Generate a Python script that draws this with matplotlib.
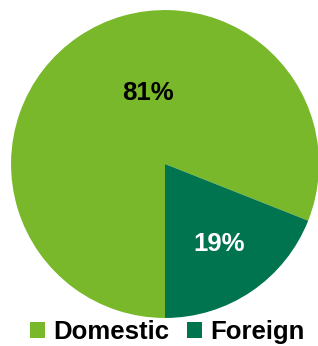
import matplotlib
matplotlib.use('Agg')
import matplotlib.pyplot as plt
from matplotlib.patches import Patch

plt.rcParams['font.family'] = ['Liberation Sans', 'DejaVu Sans']

labels = ['Domestic', 'Foreign']
shares = [81, 19]
colors = ['#78b82a', '#00734f']
text_colors = ['black', 'white']

fig = plt.figure(figsize=(3.18, 3.46), dpi=100)
ax = fig.add_axes([0.0346, 0.081, 0.9686, 0.89])

wedges, texts, autotexts = ax.pie(shares, colors=colors, startangle=-90, counterclock=False,
                                  autopct='%d%%', pctdistance=0.63, radius=1,
                                  textprops=dict(fontsize=18.5, fontweight='bold'))
for t, c in zip(autotexts, text_colors):
    t.set_color(c)
# domestic label sits higher than the default spot
autotexts[0].set_position((-0.11, 0.46))
ax.set_xlim(-1, 1)
ax.set_ylim(-1, 1)
ax.set_aspect('equal')

handles = [Patch(facecolor=c, edgecolor='none') for c in colors]
fig.legend(handles, labels, loc='center', bbox_to_anchor=(0.525, 0.04), ncol=2, frameon=False,
           prop=dict(size=18.5, weight='bold'), handlelength=0.6, handleheight=0.6,
           handletextpad=0.3, columnspacing=0.7, borderaxespad=0)

fig.savefig('out.png', dpi=100)
